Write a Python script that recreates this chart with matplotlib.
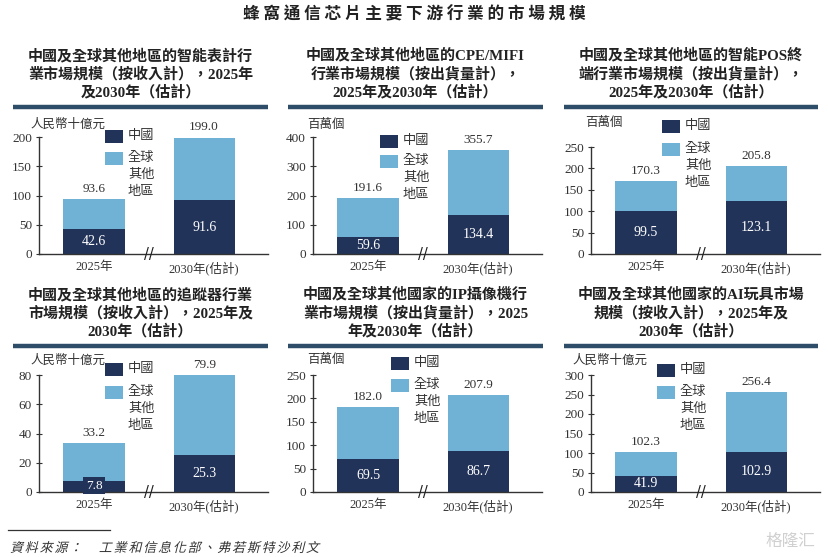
import numpy as np
import matplotlib.pyplot as plt
from matplotlib.patches import Rectangle, PathPatch
from matplotlib.textpath import TextPath
from matplotlib.font_manager import FontProperties
from matplotlib.transforms import Affine2D, blended_transform_factory

# Datos

main_title = '蜂窩通信芯片主要下游行業的市場規模'
categories = ['2025年', '2030年(估計)']

titles = [
    '中國及全球其他地區的智能表計行\n業市場規模（按收入計），2025年\n及2030年（估計）',
    '中國及全球其他地區的CPE/MIFI\n行業市場規模（按出貨量計），\n2025年及2030年（估計）',
    '中國及全球其他地區的智能POS終\n端行業市場規模（按出貨量計），\n2025年及2030年（估計）',
    '中國及全球其他地區的追蹤器行業\n市場規模（按收入計），2025年及\n2030年（估計）',
    '中國及全球其他國家的IP攝像機行\n業市場規模（按出貨量計），2025\n年及2030年（估計）',
    '中國及全球其他國家的AI玩具市場\n規模（按收入計），2025年及\n2030年（估計）',
]
units = ['人民幣十億元', '百萬個', '百萬個', '人民幣十億元', '百萬個', '人民幣十億元']

china_vals = [[42.6, 91.6], [59.6, 134.4], [99.5, 123.1],
              [7.8, 25.3], [69.5, 86.7], [41.9, 102.9]]
total_vals = [[93.6, 199.0], [191.6, 355.7], [170.3, 205.8],
              [33.2, 79.9], [182.0, 207.9], [102.3, 256.4]]
y_max = [200, 400, 250, 80, 250, 300]
y_step = [50, 100, 50, 20, 50, 50]

legend_labels = ['中國', '全球\n其他\n地區']
source = '資料來源： 工業和信息化部、弗若斯特沙利文'

# Estilo / layout (pixeles de la imagen)

W, H = 829, 557
dark = '#22335a'
light = '#70b1d6'
rule_color = '#2e4d68'
txt = '#333333'
serif_cjk = ['Liberation Serif', 'Noto Sans CJK TC']
cjk = ['Noto Sans CJK TC', 'DejaVu Sans']

ax_left = [39, 313, 591]
ax_bottom = [254, 492]
ax_top = [[137, 137, 147], [375, 375, 375]]
rule_x = [(13, 268), (288, 543), (564, 818)]
rule_y = [107, 346]
title_y = [74, 313]
unit_pos = [(30, 124), (307, 124), (585, 122), (30, 360), (307, 359), (572, 360)]
legend_pos = [(105, 130, 152), (380, 135, 155), (662, 120, 143),
              (105, 363, 386), (391, 357, 379), (657, 364, 386)]


def fx(x):
    return x / W


def fy(y):
    return 1 - y / H


fig = plt.figure(figsize=(W / 100, H / 100), dpi=100)

fig.text(fx(414), fy(14), ' '.join(main_title), ha='center', va='center',
         fontsize=12, fontweight='bold', family=cjk, color='#222222')

for i in range(6):
    row, col = divmod(i, 3)
    x0, x1 = rule_x[col]

    # titulo y linea
    fig.text(fx((x0 + x1) / 2), fy(title_y[row]), titles[i], ha='center', va='center',
             fontsize=10.8, fontweight='bold', family=serif_cjk, color='#222222',
             linespacing=1.3)
    fig.add_artist(plt.Line2D([fx(x0), fx(x1)], [fy(rule_y[row])] * 2,
                              color=rule_color, lw=3.2, solid_capstyle='butt'))

    top = ax_top[row][col]
    bot = ax_bottom[row]
    ax = fig.add_axes([fx(ax_left[col]), fy(bot), 229 / W, (bot - top) / H])

    china = np.array(china_vals[i])
    total = np.array(total_vals[i])
    x = np.arange(len(categories))
    w = 0.555
    ax.bar(x, china, width=w, color=dark, lw=0)
    ax.bar(x, total - china, width=w, bottom=china, color=light, lw=0)

    for xi, c, t in zip(x, china, total):
        ax.annotate(f'{t:.1f}', (xi, t), xytext=(0, 3), textcoords='offset points',
                    ha='center', va='bottom', fontsize=9.5, family='Liberation Serif',
                    color=txt)
        if c / y_max[i] < 0.12:
            ax.text(xi, c / 2 + y_max[i] * 0.005, f'{c:.1f}', ha='center', va='center',
                    fontsize=9.5, family='Liberation Serif', color='white',
                    bbox=dict(boxstyle='square,pad=0.2', fc=dark, ec='none'))
        else:
            ax.text(xi, c / 2, f'{c:.1f}', ha='center', va='center',
                    fontsize=10, family='Liberation Serif', color='white')

    ax.set_xlim(-0.5, 1.58)
    ax.set_ylim(0, y_max[i])
    ax.set_yticks(np.arange(0, y_max[i] + 1, y_step[i]))
    ax.set_xticks(x, categories)
    for lab in ax.get_xticklabels():
        lab.set_family(serif_cjk)
    ax.tick_params(axis='x', length=0, pad=5, labelsize=9, labelcolor=txt)
    ax.tick_params(axis='y', direction='inout', length=4, width=0.8, pad=3,
                   labelsize=9.5, labelcolor=txt, color=txt)
    for lab in ax.get_yticklabels():
        lab.set_family('Liberation Serif')
    for s in ['top', 'right']:
        ax.spines[s].set_visible(False)
    for s in ['left', 'bottom']:
        ax.spines[s].set_color(txt)
        ax.spines[s].set_linewidth(1)

    # marca de corte del eje
    tr = blended_transform_factory(ax.transData, ax.transAxes)
    ax.text(0.5, 0, '//', transform=tr, ha='center', va='center', fontsize=10.5,
            family='DejaVu Sans', color='#222222', clip_on=False)

    # unidades
    ux, uy = unit_pos[i]
    fig.text(fx(ux), fy(uy), units[i], ha='left', va='center', fontsize=9,
             family=cjk, color=txt)

    # leyenda
    lx, ly1, ly2 = legend_pos[i]
    for yy, colr, lab in [(ly1, dark, legend_labels[0]), (ly2, light, legend_labels[1])]:
        fig.add_artist(Rectangle((fx(lx), fy(yy + 12.5)), 18 / W, 12.5 / H,
                                 transform=fig.transFigure, fc=colr, ec='none'))
        fig.text(fx(lx + 23), fy(yy - 1), lab, ha='left', va='top', fontsize=9.5,
                 family=cjk, color=txt, linespacing=1.4)

# fuente (cursiva simulada, letra a letra)
fig.add_artist(plt.Line2D([fx(8), fx(110)], [fy(530)] * 2, color=txt, lw=0.9))
src_font = FontProperties(family='Noto Sans CJK TC')
for k, ch in enumerate(source):
    if ch == ' ':
        continue
    tp = TextPath((0, 0), ch, size=13, prop=src_font)
    skew = Affine2D().skew_deg(14, 0).translate(10 + k * 14.8, 5).scale(1 / W, 1 / H)
    fig.add_artist(PathPatch(tp, transform=skew + fig.transFigure, fc='#333333', ec='none'))

fig.text(fx(790), fy(541), '格隆汇', ha='center', va='center', fontsize=12,
         family=cjk, color='#d0d0d0')

fig.savefig('out.png', dpi=100)
